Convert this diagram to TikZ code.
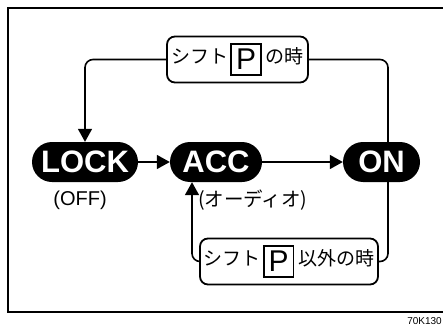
\documentclass[tikz,border=0pt]{standalone}
\usepackage{fontspec}
\setmainfont{Liberation Sans}
\newfontfamily\jp{Noto Sans CJK JP}
\usetikzlibrary{arrows.meta}
\newcommand\PB{\begingroup\setlength\fboxrule{1.6pt}\setlength\fboxsep{0pt}%
\fbox{\parbox[c][29pt][c]{28pt}{\centering\rmfamily\fontsize{30}{30}\selectfont P}}\endgroup}
\begin{document}
\begin{tikzpicture}[x=1pt,y=-1pt,
  pill/.style={fill=black, rounded corners=20pt, minimum height=40pt, inner sep=0pt,
    text=white, font=\fontsize{31}{31}\selectfont\bfseries},
  cond/.style={draw, line width=1.8pt, rounded corners=8pt, minimum height=46pt, inner sep=0pt,
    fill=white, font=\jp\fontsize{19}{19}\selectfont},
  conn/.style={line width=1.6pt, rounded corners=8pt},
  arr/.style={-{Triangle[length=13pt,width=14pt]}},
  lbl/.style={inner sep=0pt, font=\fontsize{20}{20}\selectfont},
  jlbl/.style={inner sep=0pt, font=\jp\fontsize{19.5}{19.5}\selectfont}]
\useasboundingbox (0,0) rectangle (443,326);
\fill[white] (0,0) rectangle (443,326);
% frame
\draw[line width=2pt] (460,8.3) -| (8.3,311.7) -- (460,311.7);
% state nodes
\node[pill, minimum width=106pt] (lock) at (85,162) {LOCK};
\node[pill, minimum width=92pt] (acc) at (216,162) {ACC};
\node[pill, minimum width=77pt] (on) at (381.5,162) {ON};
\node[lbl] (off) at (80,200) {(OFF)};
\node[jlbl, anchor=west] (audio) at (198,200) {(オーディオ)};
% condition boxes
\node[cond, minimum width=141pt] (top) at (237.5,59.5) {シフト\hspace{2pt}\PB\hspace{4pt}の時};
\node[cond, minimum width=178pt] (bot) at (289,261.5) {シフト\hspace{2pt}\PB\hspace{4pt}以外の時};
% anchors on the connectors
\coordinate (onT) at ([xshift=6.5pt]on.north);
\coordinate (onB) at ([xshift=6.5pt]on.south);
\coordinate (accB) at ([xshift=-24pt]acc.south);
% connectors
\draw[conn, arr] (lock.east) -- (acc.west);
\draw[conn, arr] (acc.east) -- (on.west);
\draw[conn, arr] (top.west) -| (lock.north);
\draw[conn] (top.east) -| (onT);
\draw[conn] (onB) |- (bot.east);
\draw[conn, arr] (bot.west) -| (accB);
% figure code
\node[inner sep=0pt, anchor=base east, font=\fontsize{10}{10}\selectfont] (code) at (442,324.5) {70K130};
\end{tikzpicture}
\end{document}
